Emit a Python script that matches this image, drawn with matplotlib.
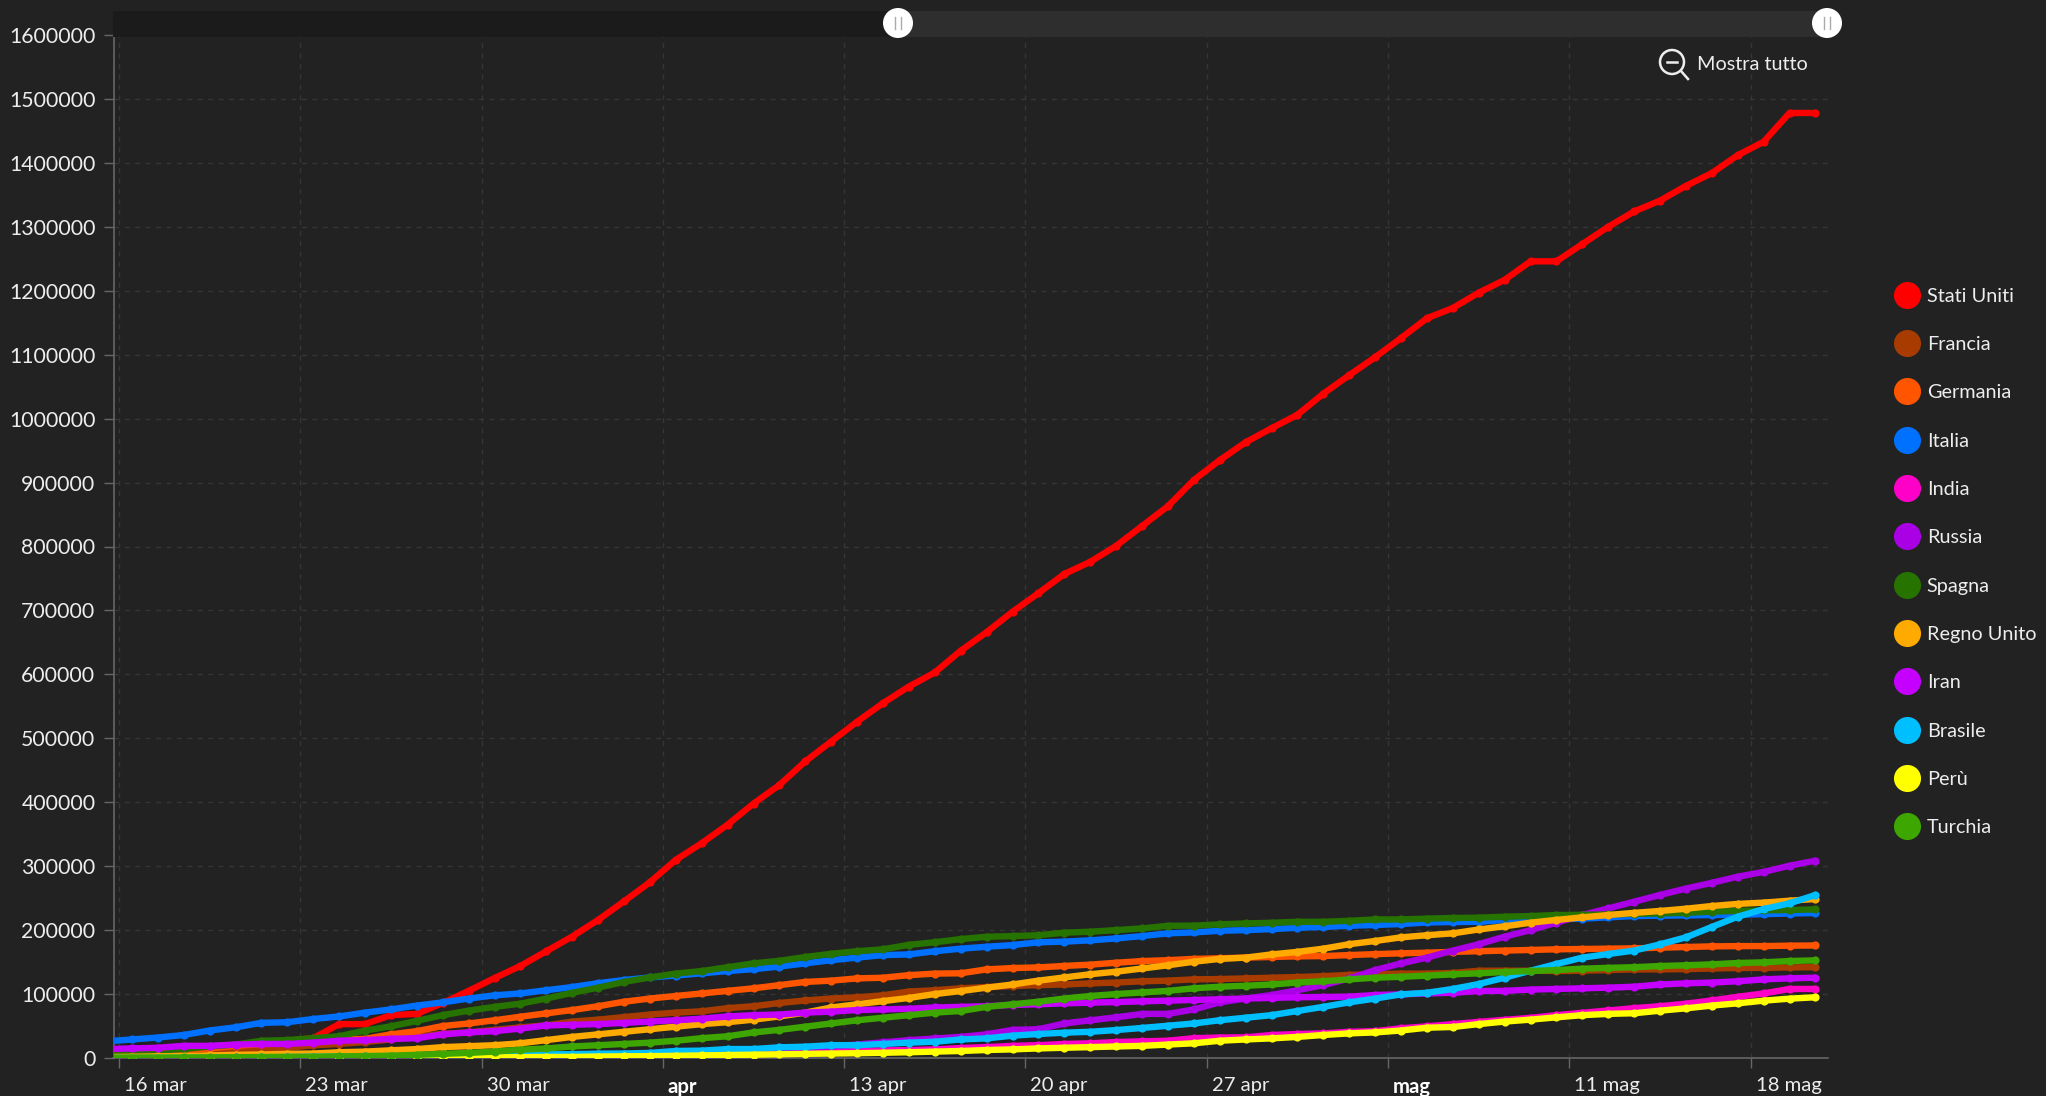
import matplotlib
matplotlib.use("Agg")
import matplotlib.pyplot as plt
import matplotlib.dates as mdates
from matplotlib.lines import Line2D
from matplotlib.patches import Circle, Rectangle
from matplotlib.transforms import ScaledTranslation
import pandas as pd

plt.rcParams['font.family'] = ['Lato', 'DejaVu Sans']

dates = pd.date_range("2020-03-15 12:00", periods=67, freq="D")

tick_dates = ["2020-03-16", "2020-03-23", "2020-03-30", "2020-04-06", "2020-04-13",
              "2020-04-20", "2020-04-27", "2020-05-04", "2020-05-11", "2020-05-18"]
tick_labels = ["16 mar", "23 mar", "30 mar", "apr", "13 apr", "20 apr", "27 apr", "mag", "11 mag", "18 mag"]
bold_labels = ["apr", "mag"]
y_ticks = list(range(0, 1600001, 100000))

stati_uniti = [3500, 4600, 6400, 7800, 13700, 19300, 24000, 27000, 31000, 53000,
               53000, 67000, 69000, 86000, 105000, 125000, 144000, 167000, 190000, 216000,
               245000, 275000, 310000, 336000, 365000, 398000, 427000, 464000, 495000, 526000,
               555000, 581000, 603000, 637000, 666000, 698000, 727000, 757000, 776000, 801000,
               832000, 863000, 904000, 935000, 963000, 985000, 1006000, 1039000, 1068000, 1096000,
               1126000, 1157000, 1173000, 1197000, 1217000, 1246000, 1246000, 1273000, 1300000, 1324000,
               1341000, 1364000, 1384000, 1412000, 1433000, 1478000, 1478000]
francia = [5000, 6500, 7700, 9000, 11000, 12500, 14500, 16000, 19800, 22000,
           25000, 29000, 33000, 38000, 40000, 44000, 48000, 51000, 57000, 60000,
           64000, 68000, 71000, 73000, 78000, 81000, 86000, 90000, 93000, 95000,
           98000, 104000, 106000, 109000, 111000, 112500, 114000, 115000, 116700, 118000,
           120000, 121000, 123000, 123500, 124500, 125600, 126600, 128000, 130000, 131000,
           132000, 132000, 133000, 136500, 136500, 136500, 136000, 136500, 137500, 138600,
           138600, 139000, 140000, 140700, 141000, 141700, 142000]
germania = [5000, 7000, 9000, 12000, 15000, 19000, 22000, 24000, 26000, 29000,
            30000, 37000, 42000, 50000, 54000, 59000, 64600, 69800, 75000, 81000,
            88000, 93000, 97000, 101000, 105000, 109000, 114000, 119000, 121000, 124500,
            125500, 129600, 132000, 132500, 138600, 140700, 141700, 144000, 146000, 149000,
            151600, 153000, 155000, 156000, 157000, 158000, 159000, 159400, 161000, 162500,
            163700, 164700, 166000, 167000, 168000, 169000, 170000, 170500, 171000, 171500,
            172500, 173600, 174600, 175000, 175000, 175700, 176000]
italia = [26000, 29000, 32000, 36000, 43000, 48000, 55000, 56000, 61000, 65000,
          71000, 76000, 82000, 87000, 93000, 98000, 101000, 106000, 111000, 117000,
          122000, 126000, 129000, 132500, 136000, 139000, 143000, 148000, 153000, 157000,
          161000, 162000, 167000, 171000, 174000, 176600, 181000, 182000, 184000, 187000,
          190700, 195000, 196400, 199000, 200000, 201600, 203700, 205000, 206800, 208000,
          209500, 212000, 212700, 213000, 215800, 216700, 217000, 218000, 220000, 222000,
          222600, 223000, 223600, 224000, 225000, 226000, 226700]
india = [100, 110, 140, 170, 190, 240, 330, 400, 500, 560,
         650, 730, 880, 1000, 1100, 1250, 1400, 1650, 2100, 2600,
         3300, 4300, 4800, 5300, 5900, 6700, 7600, 8400, 9600, 10800,
         11900, 12400, 13500, 15600, 17000, 19000, 20000, 22000, 23000, 25000,
         26000, 27000, 31000, 32000, 32300, 36000, 37500, 38500, 41000, 42000,
         46500, 49500, 53000, 56500, 59700, 62800, 67000, 70700, 74300, 78000,
         81000, 85000, 90000, 95700, 101000, 108000, 108000]
russia = [60, 100, 115, 150, 200, 250, 300, 370, 440, 500,
          650, 800, 1000, 1200, 1500, 1800, 2300, 2800, 3500, 4100,
          5400, 6300, 7500, 8700, 10100, 11900, 13500, 15700, 18300, 21100,
          24500, 27900, 30500, 33000, 37000, 44000, 45000, 54000, 59000, 63600,
          69000, 69000, 76000, 87000, 93000, 98500, 106000, 114000, 124500, 137500,
          148000, 157000, 168000, 178000, 189800, 200000, 211700, 223600, 234000, 244500,
          255000, 265000, 274000, 283600, 291000, 300800, 308600]
spagna = [8000, 10000, 12000, 14000, 18000, 21000, 27000, 28000, 31000, 34000,
          43000, 49500, 58000, 67000, 74000, 80000, 85000, 93000, 102000, 110000,
          119000, 126000, 132000, 136000, 142000, 148000, 152000, 158000, 163000, 167000,
          170000, 177000, 181000, 186000, 189600, 190700, 192000, 196000, 197500, 200000,
          202700, 206800, 207000, 209000, 210500, 211500, 213000, 213000, 214600, 216700,
          216700, 218000, 219000, 219500, 221000, 222000, 223600, 224000, 224500, 225600,
          226000, 227000, 229000, 230000, 231000, 231500, 232500]
regno_unito = [1500, 2000, 2500, 3000, 4000, 5000, 5500, 6500, 7000, 9000,
               10000, 12000, 14000, 17000, 18500, 20000, 23000, 28000, 33000, 37000,
               41000, 45000, 49000, 53000, 56000, 60000, 65000, 71000, 79000, 84000,
               89000, 94000, 100000, 104700, 110000, 115000, 121000, 126000, 131000, 135000,
               140000, 145000, 150600, 155000, 157000, 162000, 166000, 171000, 178000, 183000,
               188700, 192000, 195000, 201000, 206000, 211600, 216000, 220000, 223600, 227000,
               230000, 233500, 237700, 241000, 243000, 246000, 248700]
iran = [14000, 15000, 16000, 19000, 19000, 21000, 22000, 22000, 24000, 27000,
        28000, 30000, 31000, 37000, 40000, 42000, 46000, 51000, 52000, 53000,
        55000, 57000, 59000, 61500, 65000, 67000, 68000, 71000, 72500, 75000,
        76000, 77000, 79000, 80000, 81000, 83000, 84000, 85500, 86500, 87500,
        88600, 89700, 90700, 92000, 93000, 94000, 95000, 95400, 96000, 98500,
        99500, 101000, 102000, 104700, 105000, 107000, 108000, 109000, 110000, 111500,
        115000, 116800, 118000, 120000, 123000, 124600, 125600]
brasile = [200, 230, 350, 430, 620, 900, 1100, 1500, 1900, 2200,
           2500, 2900, 3300, 3600, 3900, 4300, 4700, 5700, 6000, 6800,
           7000, 8000, 11000, 11500, 14000, 14000, 16700, 17700, 20000, 20000,
           22000, 24000, 25500, 29000, 30700, 35000, 37500, 39600, 41000, 43700,
           47000, 50500, 54000, 59000, 63000, 67000, 73500, 80000, 87000, 93000,
           99500, 102000, 108000, 115700, 125600, 136600, 147000, 157000, 162600, 168000,
           177800, 188700, 205000, 221000, 233000, 241900, 255000]
peru = [50, 90, 110, 140, 230, 260, 320, 360, 390, 420,
        480, 580, 640, 670, 850, 950, 1400, 1600, 1700, 2300,
        2600, 2900, 3400, 4000, 4600, 5200, 5800, 6500, 7000, 7500,
        8200, 9000, 10000, 11000, 12500, 13500, 15000, 16000, 17000, 18000,
        19000, 21000, 23000, 27000, 29000, 30700, 33000, 36000, 38500, 40000,
        43000, 47400, 48500, 53000, 57000, 60000, 63600, 67000, 69000, 70000,
        74000, 77700, 82000, 85500, 89700, 92800, 95000]
turchia = [500, 600, 700, 800, 1000, 1200, 1500, 1700, 1900, 2500,
           3000, 3600, 5000, 6500, 8000, 10000, 13000, 15000, 18000, 20000,
           22000, 24000, 27000, 31000, 34000, 40000, 44000, 49000, 54000, 59000,
           63000, 67000, 71000, 73500, 80000, 84000, 88000, 93000, 97000, 100000,
           102600, 105000, 109000, 111500, 113000, 115000, 118000, 120000, 123000, 125600,
           127000, 128800, 130800, 132400, 134500, 136000, 137600, 139700, 141000, 142000,
           143900, 145000, 146500, 148600, 149600, 151700, 152700]

series_names = ["Stati Uniti", "Francia", "Germania", "Italia", "India", "Russia",
                "Spagna", "Regno Unito", "Iran", "Brasile", "Perù", "Turchia"]
series_values = [stati_uniti, francia, germania, italia, india, russia,
                 spagna, regno_unito, iran, brasile, peru, turchia]
series_colors = ["#FF0000", "#A83C00", "#FF5500", "#0070FF", "#FF00C8", "#AA00E6",
                 "#267300", "#FFAA00", "#C500FF", "#00BFFF", "#FFFF00", "#3DA600"]
for v in series_values:
    assert len(v) == 67

BG = "#222222"
W, H = 2046, 1096
fig = plt.figure(figsize=(W / 100, H / 100), dpi=100, facecolor=BG)

L, R, T, B = 113.5, 1828, 35, 1058
ax = fig.add_axes([L / W, 1 - B / H, (R - L) / W, (B - T) / H], facecolor=BG)

for name, vals, col in zip(series_names, series_values, series_colors):
    ax.plot(dates, vals, color=col, lw=4.6, marker="o", ms=5.9, mew=0,
            solid_capstyle="round", solid_joinstyle="round", label=name, zorder=3)

# x range follows the tick spacing: one day = 25.9 px, 16 mar tick at x = 119
d0 = mdates.date2num(pd.Timestamp("2020-03-16"))
ax.set_xlim(d0 + (L - 119) / 25.9, d0 + (R - 119) / 25.9)
ax.set_ylim(0, 1600000)
ax.set_yticks(y_ticks)
ax.set_yticklabels([str(v) for v in y_ticks])
ax.set_xticks([mdates.date2num(pd.Timestamp(d)) for d in tick_dates])
ax.set_xticklabels(tick_labels)

ax.grid(True, color="#363636", lw=1.0, ls=(0, (3.5, 4)), zorder=1)
ax.set_axisbelow(True)
for s in ["top", "right"]:
    ax.spines[s].set_visible(False)
for s in ["left", "bottom"]:
    ax.spines[s].set_color("#666666")
    ax.spines[s].set_linewidth(1.2)
ax.tick_params(axis="both", colors="#666666", length=7, width=1.0, labelcolor="#EDEDED")
ax.tick_params(axis="y", pad=6, labelsize=15.3)
ax.tick_params(axis="x", pad=6.5, labelsize=14.6)
offset = ScaledTranslation(5 / 100, 0, fig.dpi_scale_trans)
for lab in ax.get_xticklabels():
    lab.set_ha("left")
    lab.set_transform(lab.get_transform() + offset)
    if lab.get_text() in bold_labels:
        lab.set_fontweight("bold")
        lab.set_color("#FFFFFF")

# legend
handles = [Line2D([], [], ls="", marker="o", ms=19.5, mew=0, color=c) for c in series_colors]
fig.legend(handles, series_names, loc="upper left", bbox_to_anchor=(1897 / W, 1 - 287.5 / H),
           bbox_transform=fig.transFigure, frameon=False, fontsize=14.3, labelcolor="#EDEDED",
           labelspacing=1.578, handlelength=1.0, handletextpad=0.5, borderaxespad=0, borderpad=0)

# zoom scrollbar and "Mostra tutto" button, in pixel coordinates of the figure
ui = fig.add_axes([0, 0, 1, 1], facecolor="none", zorder=5)
ui.set_xlim(0, W)
ui.set_ylim(H, 0)
ui.axis("off")
ui.add_patch(Rectangle((113, 11), 785, 26, fc="#1B1B1B", ec="none"))
ui.add_patch(Rectangle((898, 11), 929, 26, fc="#2E2E2E", ec="none"))
for cx in (898, 1827):
    ui.add_patch(Circle((cx, 23), 15, fc="#FFFFFF", ec="none", zorder=2))
    for dx in (-3, 3):
        ui.plot([cx + dx, cx + dx], [17, 29], color="#AAAAAA", lw=1.0, zorder=3)
ui.add_patch(Circle((1672, 62), 12, fc="none", ec="#EDEDED", lw=1.8))
ui.plot([1681, 1688], [71, 79], color="#EDEDED", lw=1.8)
ui.plot([1667, 1677], [62, 62], color="#EDEDED", lw=1.8)
ui.text(1697, 64, "Mostra tutto", color="#EDEDED", fontsize=14.3, va="center", ha="left")

fig.savefig("out.png", dpi=100, facecolor=BG)
